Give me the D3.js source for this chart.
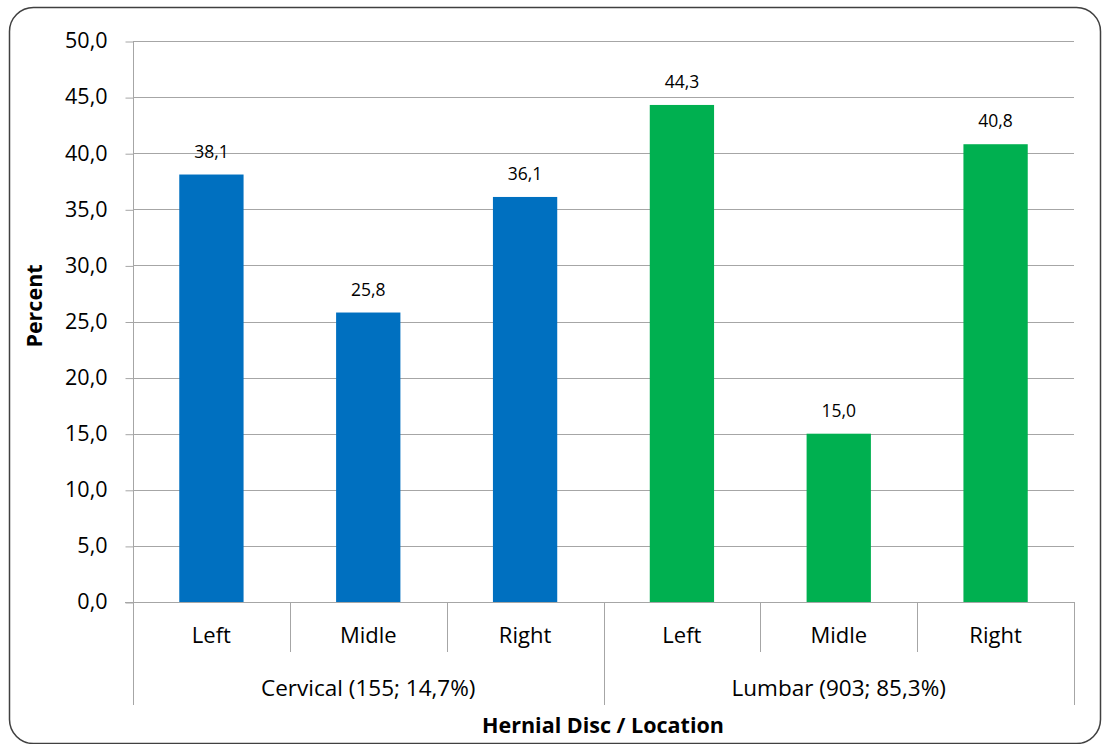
<!DOCTYPE html>
<html>
<head>
<meta charset="utf-8">
<script src="https://cdn.jsdelivr.net/npm/d3@7"></script>
<style>
  html, body { margin: 0; padding: 0; background: #fff; }
  svg { display: block; font-family: "Open Sans", Lato, sans-serif; }
</style>
</head>
<body>
<svg id="chart" width="1105" height="744"></svg>
<script>
// Hernial disc location by spine region
const groups = ["Cervical (155; 14,7%)", "Lumbar (903; 85,3%)"];
const locations = ["Left", "Midle", "Right"];
const cervicalValues = [38.1, 25.8, 36.1];
const lumbarValues = [44.3, 15.0, 40.8];
const yTicks = [0, 5, 10, 15, 20, 25, 30, 35, 40, 45, 50];
const groupColors = ["#0070C0", "#00B050"];

const rows = [];
[cervicalValues, lumbarValues].forEach((vals, g) => {
  vals.forEach((v, i) => rows.push({ key: g + "-" + i, group: g, loc: locations[i], value: v }));
});

const svg = d3.select("#chart");
const m = { left: 133, right: 1074, top: 41, bottom: 602 };
const FONT = "'Open Sans', Lato, sans-serif";

// outer frame
svg.append("rect")
  .attr("x", 9.5).attr("y", 7.5).attr("width", 1091).attr("height", 736)
  .attr("rx", 24).attr("ry", 24)
  .attr("fill", "#fff").attr("stroke", "#404040").attr("stroke-width", 1.5);

const x = d3.scaleBand().domain(rows.map(d => d.key)).range([m.left, m.right]).paddingInner(0.59).paddingOuter(0.295);
const xStep = (m.right - m.left) / rows.length;
const y = d3.scaleLinear().domain([0, 50]).range([m.bottom, m.top]);
const fmt = v => d3.format(".1f")(v).replace(".", ",");

// gridlines
svg.append("g").selectAll("line").data(yTicks.filter(t => t > 0)).join("line")
  .attr("x1", m.left).attr("x2", m.right)
  .attr("y1", d => Math.round(y(d)) + 0.5).attr("y2", d => Math.round(y(d)) + 0.5)
  .attr("stroke", "#A6A6A6").attr("stroke-width", 1);

// y axis
const yAxis = svg.append("g").attr("transform", `translate(${m.left + 0.5},0)`)
  .call(d3.axisLeft(y).tickValues(yTicks).tickFormat(fmt).tickSize(8).tickSizeOuter(0));
yAxis.select(".domain").remove();
yAxis.selectAll(".tick line").attr("stroke", "#A6A6A6").attr("transform", "translate(0,0.5)");
yAxis.selectAll(".tick text").attr("font-size", 21.5).attr("fill", "#000").attr("x", -26)
  .attr("font-family", FONT);
svg.append("line").attr("x1", m.left + 0.5).attr("x2", m.left + 0.5)
  .attr("y1", m.top).attr("y2", 705).attr("stroke", "#A6A6A6");

// bars
svg.append("g").selectAll("rect").data(rows).join("rect")
  .attr("x", d => x(d.key)).attr("width", x.bandwidth())
  .attr("y", d => y(d.value)).attr("height", d => y(0) - y(d.value))
  .attr("fill", d => groupColors[d.group]);

// value labels
svg.append("g").selectAll("text").data(rows).join("text")
  .attr("x", d => x(d.key) + x.bandwidth() / 2).attr("y", d => y(d.value) - 17)
  .attr("text-anchor", "middle").attr("font-size", 17.5).attr("fill", "#000")
  .text(d => fmt(d.value));

// x baseline
svg.append("line").attr("x1", m.left - 8).attr("x2", m.right)
  .attr("y1", m.bottom + 0.5).attr("y2", m.bottom + 0.5).attr("stroke", "#A6A6A6");

// category separators
rows.forEach((d, i) => {
  const xr = Math.round(m.left + xStep * (i + 1)) + 0.5;
  const long = (i + 1) % locations.length === 0;
  svg.append("line").attr("x1", xr).attr("x2", xr)
    .attr("y1", m.bottom).attr("y2", long ? 705 : 652).attr("stroke", "#A6A6A6");
});

// location labels
svg.append("g").selectAll("text").data(rows).join("text")
  .attr("x", d => x(d.key) + x.bandwidth() / 2).attr("y", 643)
  .attr("text-anchor", "middle").attr("font-size", 22).attr("fill", "#000")
  .text(d => d.loc);

// group labels
svg.append("g").selectAll("text").data(groups).join("text")
  .attr("x", (d, g) => m.left + xStep * locations.length * (g + 0.5)).attr("y", 696)
  .attr("text-anchor", "middle").attr("font-size", 22.5).attr("fill", "#000")
  .text(d => d);

// axis titles
svg.append("text").attr("x", 603).attr("y", 733).attr("text-anchor", "middle")
  .attr("font-size", 21.5).attr("font-weight", "bold").attr("fill", "#000")
  .text("Hernial Disc / Location");
svg.append("text").attr("transform", "translate(42,306) rotate(-90)")
  .attr("text-anchor", "middle").attr("font-size", 21.5).attr("font-weight", "bold").attr("fill", "#000")
  .text("Percent");
</script>
</body>
</html>
